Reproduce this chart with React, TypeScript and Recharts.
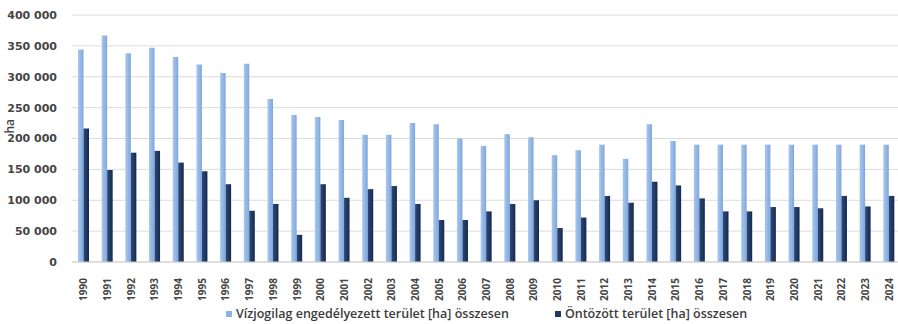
import { BarChart, Bar, XAxis, YAxis, CartesianGrid, Legend } from "recharts";

const years = [
  "1990", "1991", "1992", "1993", "1994", "1995", "1996", "1997", "1998", "1999",
  "2000", "2001", "2002", "2003", "2004", "2005", "2006", "2007", "2008", "2009",
  "2010", "2011", "2012", "2013", "2014", "2015", "2016", "2017", "2018", "2019",
  "2020", "2021", "2022", "2023", "2024",
];

// Vízjogilag engedélyezett terület [ha]
const permitted = [
  344000, 367000, 338000, 347000, 332000, 320000, 306000, 321000, 264000, 238000,
  235000, 230000, 206000, 206000, 225000, 223000, 200000, 188000, 207000, 202000,
  173000, 181000, 190000, 167000, 223000, 196000, 190000, 190000, 190000, 190000,
  190000, 190000, 190000, 190000, 190000,
];

// Öntözött terület [ha]
const irrigated = [
  216000, 149000, 177000, 180000, 161000, 147000, 126000, 83000, 94000, 44000,
  126000, 104000, 118000, 123000, 94000, 68000, 68000, 82000, 94000, 100000,
  55000, 72000, 107000, 96000, 130000, 124000, 103000, 82000, 82000, 89000,
  89000, 87000, 107000, 90000, 107000,
];

const yTicks = [0, 50000, 100000, 150000, 200000, 250000, 300000, 350000, 400000];

const data = years.map((year, i) => ({
  year,
  permitted: permitted[i],
  irrigated: irrigated[i],
}));

const fmt = (v: number) =>
  v === 0 ? "0" : `${Math.floor(v / 1000)} ${String(v % 1000).padStart(3, "0")}`;

function YearTick({ x, y, payload }: any) {
  return (
    <g transform={`translate(${x},${y + 8})`}>
      <text
        transform="rotate(-90)"
        textAnchor="end"
        dy="0.35em"
        fill="#454545"
        fontSize={10}
        fontWeight={700}
        fontFamily="'Open Sans', sans-serif"
      >
        {payload.value}
      </text>
    </g>
  );
}

function LegendBox({ payload }: any) {
  return (
    <div
      style={{
        display: "flex",
        paddingLeft: 226,
        fontFamily: "'Open Sans', sans-serif",
        fontSize: 12.5,
        fontWeight: 600,
        color: "#3c3c3c",
        lineHeight: "20px",
      }}
    >
      {(payload || []).map((p: any, i: number) => (
        <span key={i} style={{ display: "flex", alignItems: "center", marginRight: 46 }}>
          <span
            style={{
              width: 6,
              height: 6,
              background: i === 0 ? "#8db3e2" : "#1f3864",
              marginRight: 4,
            }}
          />
          {p.value}
        </span>
      ))}
    </div>
  );
}

export default function App() {
  return (
    <div
      style={{
        position: "absolute",
        left: 0,
        top: 0,
        width: 898,
        height: 324,
        overflow: "hidden",
        background: "#ffffff",
      }}
    >
      <BarChart
        width={905}
        height={324}
        data={data}
        margin={{ top: 15, right: 4, bottom: 0, left: 0 }}
        barGap={0}
        barSize={5.5}
      >
        <defs>
          <linearGradient id="lightBar" x1="0" y1="0" x2="1" y2="0">
            <stop offset="0%" stopColor="#a9c7ee" />
            <stop offset="100%" stopColor="#7fa7db" />
          </linearGradient>
          <linearGradient id="darkBar" x1="0" y1="0" x2="1" y2="0">
            <stop offset="0%" stopColor="#2d4a7c" />
            <stop offset="100%" stopColor="#17294d" />
          </linearGradient>
        </defs>
        <CartesianGrid vertical={false} stroke="#dcdcdc" />
        <XAxis
          dataKey="year"
          interval={0}
          height={42}
          tick={<YearTick />}
          tickLine={false}
          axisLine={{ stroke: "#d0d0d0" }}
        />
        <YAxis
          width={72}
          domain={[0, 400000]}
          ticks={yTicks}
          tickFormatter={fmt}
          tickLine={false}
          axisLine={false}
          tickSize={0}
          tickMargin={15}
          tick={{
            fill: "#454545",
            fontSize: 11,
            fontWeight: 700,
            fontFamily: "'DejaVu Sans', sans-serif",
          }}
          label={{
            value: "ha",
            angle: -90,
            position: "insideLeft",
            offset: 10,
            dy: -5,
            fill: "#454545",
            fontSize: 12,
            fontWeight: 600,
            fontFamily: "'Open Sans', sans-serif",
          }}
        />
        <Legend
          verticalAlign="bottom"
          height={20}
          content={<LegendBox />}
          wrapperStyle={{ left: 0, width: 898 }}
        />
        <Bar
          dataKey="permitted"
          name="Vízjogilag engedélyezett terület [ha] összesen"
          fill="url(#lightBar)"
          isAnimationActive={false}
        />
        <Bar
          dataKey="irrigated"
          name="Öntözött terület [ha] összesen"
          fill="url(#darkBar)"
          isAnimationActive={false}
        />
      </BarChart>
    </div>
  );
}
